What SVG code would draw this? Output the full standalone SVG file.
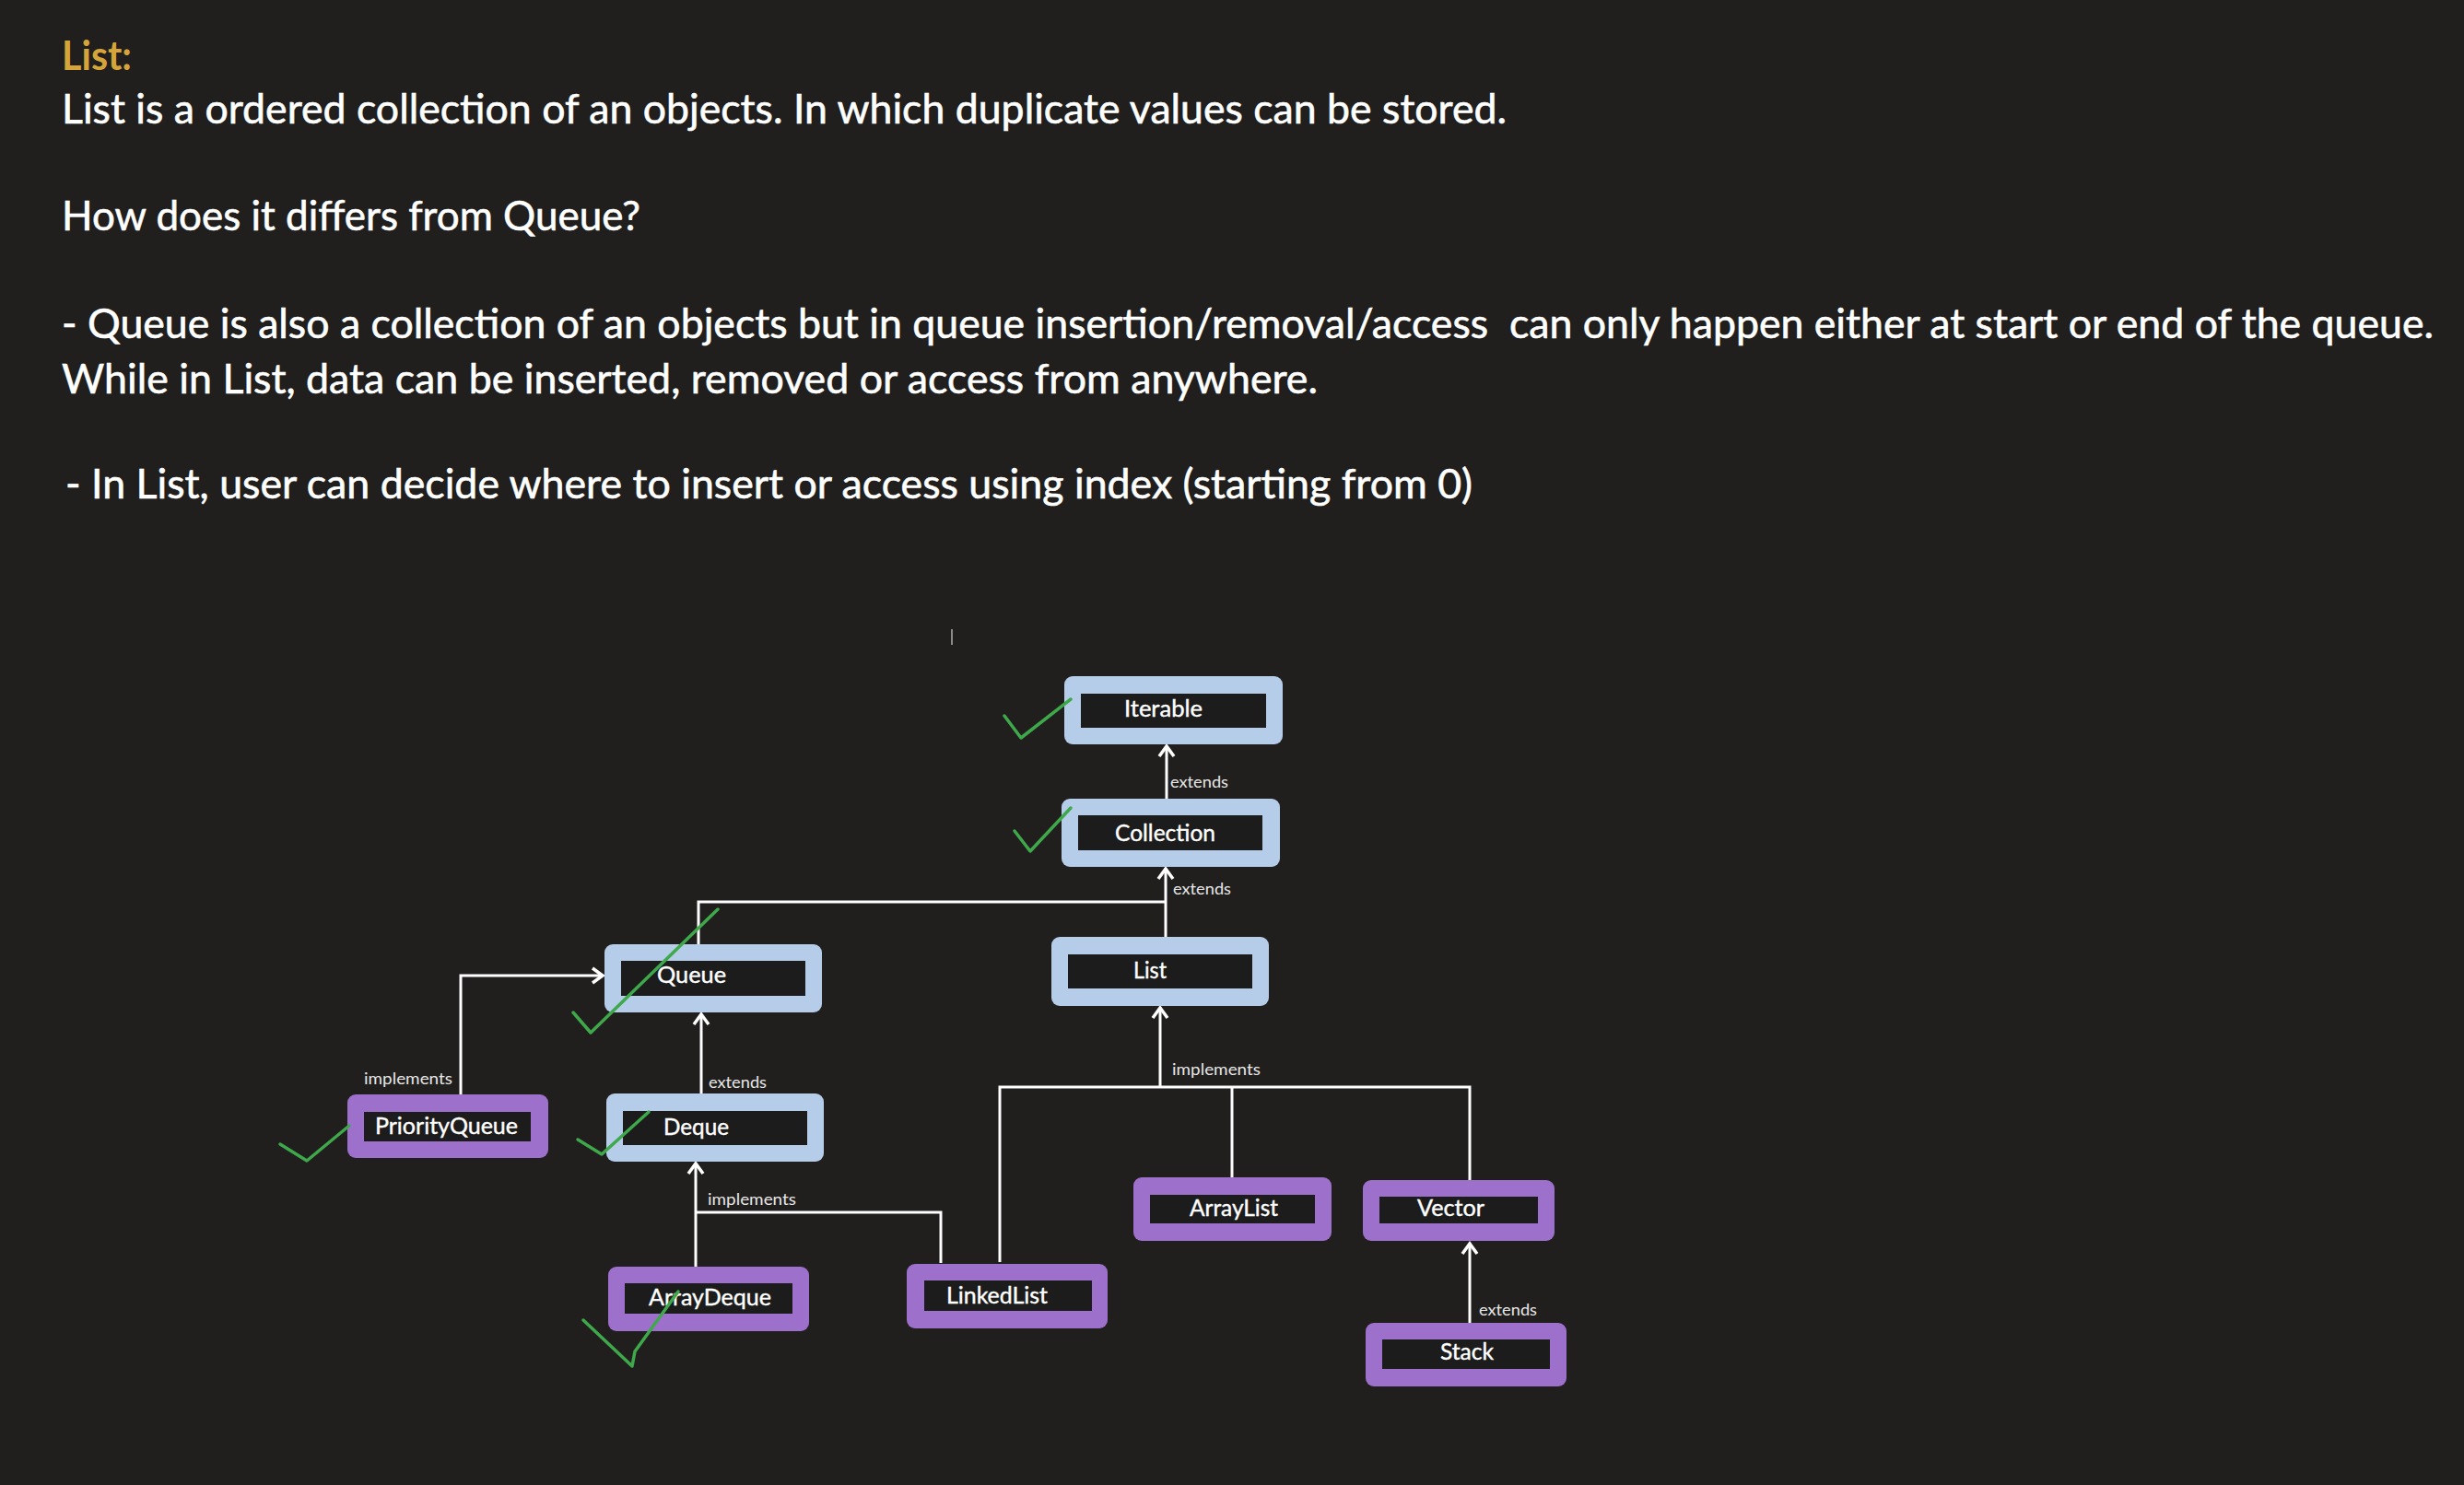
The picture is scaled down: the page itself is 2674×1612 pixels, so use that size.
<svg xmlns="http://www.w3.org/2000/svg" width="2674" height="1612" viewBox="0 0 2674 1612">
<style>
.para{font-family:Lato,"Open Sans","Liberation Sans",sans-serif;font-size:44px;fill:#ffffff;stroke:#ffffff;stroke-width:0.6;white-space:pre}
.title{font-weight:bold;fill:#d5a53a;stroke:none}
.blue{fill:#b5cde8}
.purple{fill:#9d70cc}
.inner{fill:#1c1c1c}
.lbl{font-family:Lato,"Open Sans","Liberation Sans",sans-serif;font-size:25px;fill:#ffffff;stroke:#ffffff;stroke-width:0.4}
.elbl{font-family:Lato,"Open Sans","Liberation Sans",sans-serif;font-size:17px;fill:#e6e6e6}
.conn{fill:none;stroke:#ffffff;stroke-width:3}
.check{fill:none;stroke:#3ea84a;stroke-width:3.5;stroke-linecap:round;stroke-linejoin:round}
</style>
<defs>
<marker id="arr" markerUnits="userSpaceOnUse" markerWidth="20" markerHeight="20" viewBox="-15 -10 20 20" refX="0" refY="0" orient="auto">
<path d="M-11,-8 L0,0 L-11,8" fill="none" stroke="#ffffff" stroke-width="3.5"/>
</marker>
</defs>
<rect x="0" y="0" width="2674" height="1612" fill="#201f1e"/>

<g id="text">
<text class="para title" x="67" y="76" textLength="76" lengthAdjust="spacingAndGlyphs">List:</text>
<text class="para" x="67" y="134" textLength="1568" lengthAdjust="spacingAndGlyphs">List is a ordered collection of an objects. In which duplicate values can be stored.</text>
<text class="para" x="67" y="250" textLength="628" lengthAdjust="spacingAndGlyphs">How does it differs from Queue?</text>
<text class="para" x="67" y="367" textLength="2574" lengthAdjust="spacingAndGlyphs">- Queue is also a collection of an objects but in queue insertion/removal/access  can only happen either at start or end of the queue.</text>
<text class="para" x="67" y="427" textLength="1363" lengthAdjust="spacingAndGlyphs">While in List, data can be inserted, removed or access from anywhere.</text>
<text class="para" x="71" y="541" textLength="1527" lengthAdjust="spacingAndGlyphs">- In List, user can decide where to insert or access using index (starting from 0)</text>
</g>

<line x1="1033" y1="683" x2="1033" y2="700" stroke="#b0b0b0" stroke-width="1.5"/>

<g id="connectors">
<path class="conn" d="M1266,867 V810" marker-end="url(#arr)"/>
<path class="conn" d="M1265,1017 V943" marker-end="url(#arr)"/>
<path class="conn" d="M758,1025 V979 H1265"/>
<path class="conn" d="M500,1188 V1059 H654" marker-end="url(#arr)"/>
<path class="conn" d="M761,1187 V1101" marker-end="url(#arr)"/>
<path class="conn" d="M755,1375 V1263" marker-end="url(#arr)"/>
<path class="conn" d="M1021,1371 V1316 H755"/>
<path class="conn" d="M1085,1370 V1180 H1595 V1283"/>
<path class="conn" d="M1259,1180 V1094" marker-end="url(#arr)"/>
<path class="conn" d="M1337,1180 V1278"/>
<path class="conn" d="M1595,1436 V1350" marker-end="url(#arr)"/>
<text class="elbl" x="1270" y="855" textLength="63" lengthAdjust="spacingAndGlyphs">extends</text>
<text class="elbl" x="1273" y="971" textLength="63" lengthAdjust="spacingAndGlyphs">extends</text>
<text class="elbl" x="395" y="1177" textLength="96" lengthAdjust="spacingAndGlyphs">implements</text>
<text class="elbl" x="769" y="1181" textLength="63" lengthAdjust="spacingAndGlyphs">extends</text>
<text class="elbl" x="768" y="1308" textLength="96" lengthAdjust="spacingAndGlyphs">implements</text>
<text class="elbl" x="1272" y="1167" textLength="96" lengthAdjust="spacingAndGlyphs">implements</text>
<text class="elbl" x="1605" y="1428" textLength="63" lengthAdjust="spacingAndGlyphs">extends</text>
</g>

<g id="node-iterable">
<rect class="blue" x="1155" y="734" width="237" height="74" rx="9"/>
<rect class="inner" x="1173" y="753" width="201" height="37"/>
<text class="lbl" x="1220" y="778" textLength="85" lengthAdjust="spacingAndGlyphs">Iterable</text>
</g>
<g id="node-collection">
<rect class="blue" x="1152" y="867" width="237" height="74" rx="9"/>
<rect class="inner" x="1170" y="885" width="200" height="38"/>
<text class="lbl" x="1210" y="913" textLength="109" lengthAdjust="spacingAndGlyphs">Collection</text>
</g>
<g id="node-list">
<rect class="blue" x="1141" y="1017" width="236" height="75" rx="9"/>
<rect class="inner" x="1159" y="1036" width="200" height="37"/>
<text class="lbl" x="1230" y="1062" textLength="36" lengthAdjust="spacingAndGlyphs">List</text>
</g>
<g id="node-queue">
<rect class="blue" x="656" y="1025" width="236" height="74" rx="9"/>
<rect class="inner" x="674" y="1043" width="200" height="38"/>
<text class="lbl" x="713" y="1067" textLength="75" lengthAdjust="spacingAndGlyphs">Queue</text>
</g>
<g id="node-priorityqueue">
<rect class="purple" x="377" y="1188" width="218" height="69" rx="9"/>
<rect class="inner" x="395" y="1207" width="181" height="32"/>
<text class="lbl" x="407" y="1231" textLength="155" lengthAdjust="spacingAndGlyphs">PriorityQueue</text>
</g>
<g id="node-deque">
<rect class="blue" x="658" y="1187" width="236" height="74" rx="9"/>
<rect class="inner" x="676" y="1206" width="200" height="37"/>
<text class="lbl" x="720" y="1232" textLength="71" lengthAdjust="spacingAndGlyphs">Deque</text>
</g>
<g id="node-arraydeque">
<rect class="purple" x="660" y="1375" width="218" height="70" rx="9"/>
<rect class="inner" x="678" y="1393" width="182" height="33"/>
<text class="lbl" x="704" y="1417" textLength="133" lengthAdjust="spacingAndGlyphs">ArrayDeque</text>
</g>
<g id="node-linkedlist">
<rect class="purple" x="984" y="1372" width="218" height="70" rx="9"/>
<rect class="inner" x="1003" y="1390" width="182" height="33"/>
<text class="lbl" x="1027" y="1415" textLength="110" lengthAdjust="spacingAndGlyphs">LinkedList</text>
</g>
<g id="node-arraylist">
<rect class="purple" x="1230" y="1278" width="215" height="69" rx="9"/>
<rect class="inner" x="1248" y="1297" width="179" height="31"/>
<text class="lbl" x="1291" y="1320" textLength="96" lengthAdjust="spacingAndGlyphs">ArrayList</text>
</g>
<g id="node-vector">
<rect class="purple" x="1479" y="1281" width="208" height="66" rx="9"/>
<rect class="inner" x="1497" y="1299" width="172" height="29"/>
<text class="lbl" x="1538" y="1320" textLength="73" lengthAdjust="spacingAndGlyphs">Vector</text>
</g>
<g id="node-stack">
<rect class="purple" x="1482" y="1436" width="218" height="69" rx="9"/>
<rect class="inner" x="1500" y="1454" width="182" height="32"/>
<text class="lbl" x="1563" y="1476" textLength="58" lengthAdjust="spacingAndGlyphs">Stack</text>
</g>

<g id="checks">
<polyline class="check" points="1090,777 1108,801 1162,759"/>
<polyline class="check" points="1101,902 1118,924 1162,877"/>
<polyline class="check" points="622,1099 641,1121 779,987"/>
<polyline class="check" points="304,1242 333,1260 379,1222"/>
<polyline class="check" points="627,1237 653,1253 704,1207"/>
<polyline class="check" points="633,1433 686,1483 689,1467 736,1402"/>
</g>
</svg>
